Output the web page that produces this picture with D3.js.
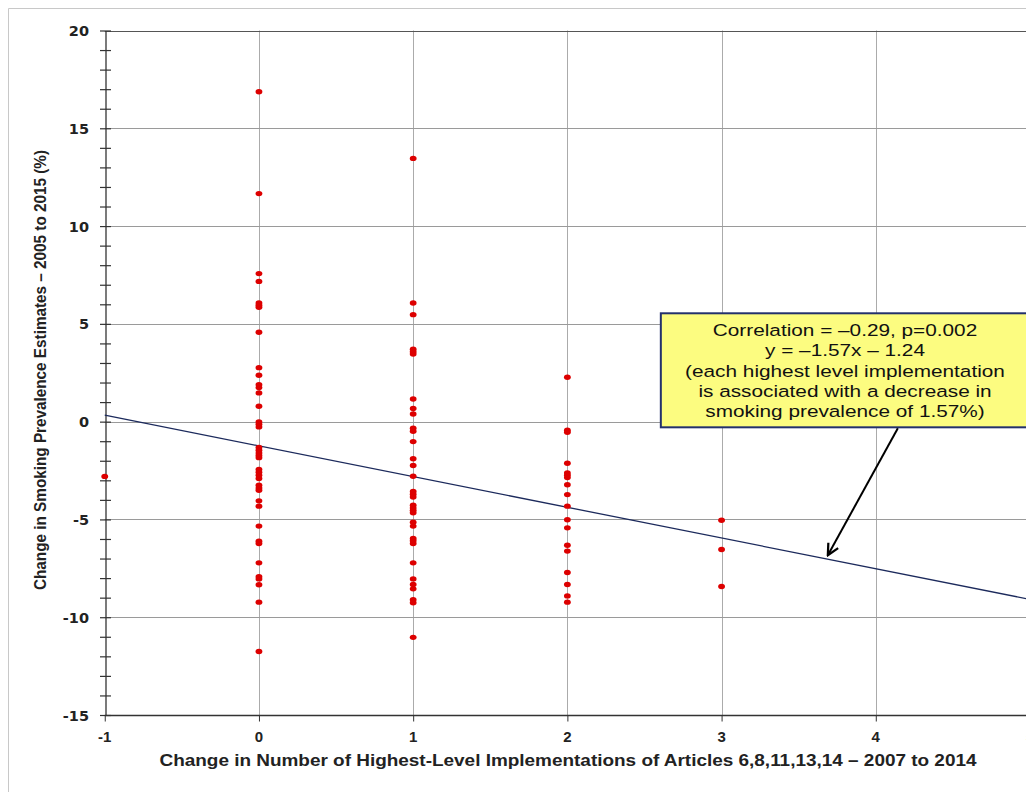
<!DOCTYPE html>
<html lang="en">
<head>
    <meta charset="utf-8">
    <script src="https://cdn.jsdelivr.net/npm/d3@7/dist/d3.min.js"></script>
    <style>
        body { margin: 0; background: #fff; }
        svg { display: block; }
    </style>
</head>
<body>
    <div id="chart"></div>
    <script>
        // change in highest-level implementations (x) -> change in smoking prevalence (y)
        const changeMinus1 = [-2.8];
        const change0 = [16.87, 11.66, 7.57, 7.17, 6.07, 5.95, 5.85, 4.57,
            2.76, 2.37, 1.89, 1.74, 1.47, 0.79, -0.01, -0.13, -0.27,
            -1.32, -1.46, -1.6, -1.73, -1.84, -2.45, -2.59, -2.74, -2.91,
            -3.25, -3.39, -3.51, -4.05, -4.32, -5.34, -6.11, -6.23, -7.22,
            -7.93, -8.04, -8.34, -9.23, -11.75];
        const change1 = [13.46, 6.07, 5.47, 3.7, 3.58, 3.46,
            1.16, 0.67, 0.39, -0.34, -0.49, -1.02, -1.9, -2.24, -2.79,
            -3.57, -3.71, -3.85, -4.27, -4.41, -4.53, -4.66, -5.14, -5.34,
            -5.97, -6.09, -6.23, -7.22, -8.04, -8.33, -8.55, -9.11, -9.26, -11.03];
        const change2 = [2.27, -0.44, -0.54, -2.13, -2.62, -2.74, -2.86, -3.23,
            -3.73, -4.32, -5.02, -5.43, -6.32, -6.62, -7.71, -8.33, -8.91, -9.23];
        const change3 = [-5.04, -6.54, -8.43];

        const xTicks = [-1, 0, 1, 2, 3, 4, 5];
        const yTicks = [-15, -10, -5, 0, 5, 10, 15, 20];
        const slope = -1.57, intercept = -1.24;
        const noteLines = [
            "Correlation = \u20130.29, p=0.002",
            "y = \u20131.57x \u2013 1.24",
            "(each highest level implementation",
            "is associated with a decrease in",
            "smoking prevalence of 1.57%)"
        ];

        const groups = [[-1, changeMinus1], [0, change0], [1, change1], [2, change2], [3, change3]];
        const points = groups.flatMap(([x, ys]) => ys.map(y => ({ x, y })));

        const width = 1026, height = 792;
        const x = d3.scaleLinear().domain([-1, 5]).range([104.75, 1030]);
        const y = d3.scaleLinear().domain([-15, 20]).range([715, 30.5]);
        const narrow = "'Liberation Sans Narrow', 'Arial Narrow', 'Liberation Sans', sans-serif";

        const svg = d3.select("#chart").append("svg")
            .attr("width", width).attr("height", height);

        svg.append("rect").attr("width", width).attr("height", height).attr("fill", "#fff");
        // outer frame (left and top edges only are visible)
        svg.append("path")
            .attr("d", `M8.5,${height} V8.5 H${width}`)
            .attr("fill", "none").attr("stroke", "#c8c8c8");

        // grid
        svg.append("g").selectAll("line")
            .data(xTicks.filter(d => d > -1))
            .join("line")
            .attr("x1", d => Math.round(x(d)) + 0.5).attr("x2", d => Math.round(x(d)) + 0.5)
            .attr("y1", y(20)).attr("y2", y(-15))
            .attr("stroke", "#ababab");
        svg.append("g").selectAll("line")
            .data(yTicks.filter(d => d > -15))
            .join("line")
            .attr("x1", x(-1)).attr("x2", width)
            .attr("y1", d => Math.round(y(d)) + 0.5).attr("y2", d => Math.round(y(d)) + 0.5)
            .attr("stroke", d => d === 20 ? "#555" : "#9a9a9a");

        // y axis with crossing ticks every 1 unit
        const yAxis = d3.axisLeft(y).tickValues(d3.range(-15, 21, 1)).tickSize(0).tickFormat("");
        const yg = svg.append("g").attr("transform", `translate(${Math.round(x(-1)) + 0.5},0)`).call(yAxis);
        yg.select(".domain").attr("stroke", "#333").attr("stroke-width", 1.3);
        yg.selectAll(".tick line").attr("x1", -5.5).attr("x2", 5.5).attr("stroke", "#333").attr("stroke-width", 1.2);
        svg.append("g").selectAll("text")
            .data(yTicks)
            .join("text")
            .attr("x", 89).attr("y", d => y(d) + 5.5)
            .attr("text-anchor", "end")
            .attr("font-family", "Verdana, 'DejaVu Sans', sans-serif")
            .attr("font-weight", "bold").attr("font-size", 14.5)
            .attr("fill", "#222")
            .text(d => d);

        // x axis
        const xAxis = d3.axisBottom(x).tickValues(xTicks).tickSize(6).tickFormat("");
        const xg = svg.append("g").attr("transform", `translate(0,${Math.round(y(-15)) + 0.5})`).call(xAxis);
        xg.select(".domain").attr("stroke", "#333").attr("stroke-width", 1.3).attr("d", `M${x(-1)},0H${width}`);
        xg.selectAll(".tick line").attr("stroke", "#333");
        svg.append("g").selectAll("text")
            .data(xTicks)
            .join("text")
            .attr("x", d => x(d)).attr("y", 742)
            .attr("text-anchor", "middle")
            .attr("font-family", narrow)
            .attr("font-weight", "bold").attr("font-size", 15)
            .attr("fill", "#222")
            .text(d => d);

        // axis titles
        svg.append("text")
            .attr("x", 568).attr("y", 766)
            .attr("text-anchor", "middle")
            .attr("font-family", narrow)
            .attr("font-weight", "bold").attr("font-size", 16)
            .attr("textLength", 817).attr("lengthAdjust", "spacingAndGlyphs")
            .attr("fill", "#222")
            .text("Change in Number of Highest-Level Implementations of Articles 6,8,11,13,14 \u2013 2007 to 2014");
        svg.append("text")
            .attr("transform", "translate(46,370) rotate(-90)")
            .attr("text-anchor", "middle")
            .attr("font-family", narrow)
            .attr("font-weight", "bold").attr("font-size", 16)
            .attr("textLength", 440).attr("lengthAdjust", "spacingAndGlyphs")
            .attr("fill", "#222")
            .text("Change in Smoking Prevalence Estimates \u2013 2005 to 2015 (%)");

        // regression line
        const line = d3.line().x(d => x(d)).y(d => y(slope * d + intercept));
        svg.append("path")
            .datum([-1, 5])
            .attr("d", line)
            .attr("fill", "none").attr("stroke", "#1c2a5c").attr("stroke-width", 1.3);

        // points
        svg.append("g").selectAll("ellipse")
            .data(points)
            .join("ellipse")
            .attr("cx", d => x(d.x)).attr("cy", d => y(d.y))
            .attr("rx", 3.4).attr("ry", 2.7)
            .attr("fill", "#dd0000");

        // annotation
        const boxLeft = 2.606, boxTop = 5.54, boxBottom = -0.29;
        svg.append("rect")
            .attr("x", x(boxLeft)).attr("y", y(boxTop))
            .attr("width", 367).attr("height", y(boxBottom) - y(boxTop))
            .attr("fill", "#fcfc80").attr("stroke", "#23306c").attr("stroke-width", 2);
        svg.append("g")
            .attr("transform", "translate(845,0) scale(1.26,1)")
            .selectAll("text")
            .data(noteLines)
            .join("text")
            .attr("x", 0).attr("y", (d, i) => 336 + i * 20.3)
            .attr("text-anchor", "middle")
            .attr("font-family", "'Liberation Sans', Arial, sans-serif")
            .attr("font-size", 16.5)
            .attr("fill", "#111")
            .text(d => d);

        svg.append("defs").append("marker")
            .attr("id", "head")
            .attr("viewBox", "0 0 10 10")
            .attr("refX", 9).attr("refY", 5)
            .attr("markerWidth", 7).attr("markerHeight", 7)
            .attr("markerUnits", "strokeWidth")
            .attr("orient", "auto")
            .append("path")
            .attr("d", "M1,1 L9,5 L1,9")
            .attr("fill", "none").attr("stroke", "#000").attr("stroke-width", 1.6);
        svg.append("line")
            .attr("x1", x(4.143)).attr("y1", y(boxBottom) + 1)
            .attr("x2", x(3.689)).attr("y2", y(-6.83))
            .attr("stroke", "#000").attr("stroke-width", 2)
            .attr("marker-end", "url(#head)");
    </script>
</body>
</html>
